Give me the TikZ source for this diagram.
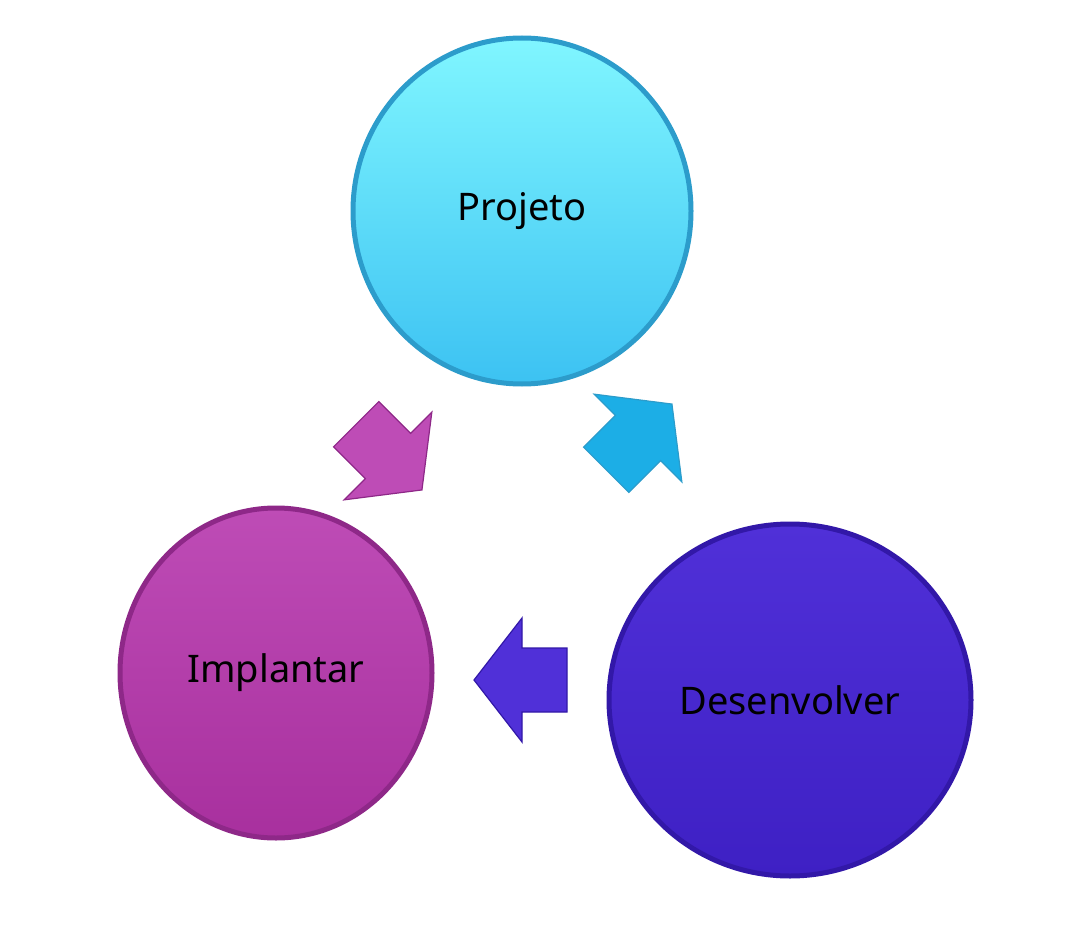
\documentclass[tikz,border=0pt]{standalone}
\usepackage{fontspec}
\setmainfont{Noto Sans}
\usetikzlibrary{shapes.geometric}

\definecolor{cyanTop}{HTML}{80F6FF}
\definecolor{cyanBot}{HTML}{3CC2F2}
\definecolor{cyanRim}{HTML}{2C9CCB}
\definecolor{cyanArrow}{HTML}{1CAEE6}
\definecolor{magTop}{HTML}{BE4CB6}
\definecolor{magBot}{HTML}{A8309E}
\definecolor{magRim}{HTML}{8E2888}
\definecolor{violTop}{HTML}{5030D8}
\definecolor{violBot}{HTML}{3E20C4}
\definecolor{violRim}{HTML}{3218A8}

\tikzset{
  stagedisc/.style={ellipse, line width=5pt, font=\fontsize{38}{44}\selectfont},
  flowarrow/.style={line width=1.2pt, line join=miter}
}
% block arrow: fill, rim, centre, angle
\newcommand{\flowArrow}[4]{%
  \begin{scope}[shift={#3}, rotate=#4]
    \draw[flowarrow, fill=#1, draw=#2]
      (-45,-32) -- (0,-32) -- (0,-62) -- (48,0) -- (0,62) -- (0,32) -- (-45,32) -- cycle;
  \end{scope}}

\begin{document}
\begin{tikzpicture}[x=1pt,y=-1pt]
  \useasboundingbox (0,0) rectangle (1084,936);

  % discs
  \node[stagedisc, draw=cyanRim, top color=cyanTop, bottom color=cyanBot,
        minimum width=338pt, minimum height=346pt] (projeto) at (522,211) {Projeto};
  \node[stagedisc, draw=magRim, top color=magTop, bottom color=magBot,
        minimum width=312pt, minimum height=330pt] (implantar) at (276,673) {Implantar};
  \node[stagedisc, draw=violRim, top color=violTop, bottom color=violBot,
        minimum width=362pt, minimum height=352pt] (desenvolver) at (790,700) {Desenvolver};

  % arrows between the discs
  \flowArrow{cyanArrow}{cyanRim}{(638,438)}{45}
  \flowArrow{violTop}{violRim}{(522,680)}{180}
  \flowArrow{magTop}{magRim}{(388,456)}{-45}
\end{tikzpicture}
\end{document}
